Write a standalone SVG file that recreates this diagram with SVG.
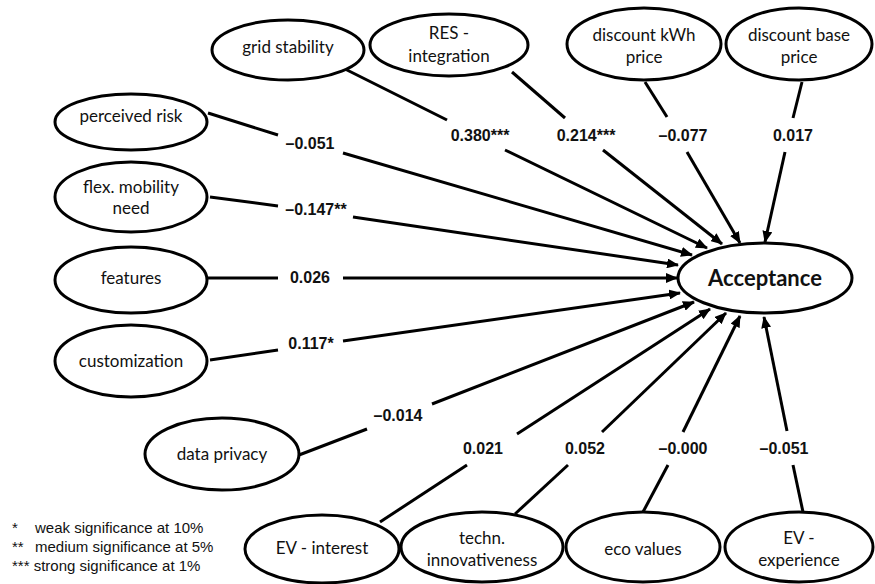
<svg xmlns="http://www.w3.org/2000/svg" width="875" height="584" viewBox="0 0 875 584">
<defs>
<marker id="arr" markerUnits="userSpaceOnUse" markerWidth="12" markerHeight="10" viewBox="0 0 12 10" refX="11" refY="5" orient="auto">
<path d="M0,0 L12,5 L0,10 z" fill="#000"/>
</marker>
</defs>
<style>
.node ellipse{fill:#fff;stroke:#000;stroke-width:3}
.node text{font-family:Lato,"Noto Sans",sans-serif;font-size:17px;fill:#111;text-anchor:middle}
.main text{font-weight:bold;font-size:22px}
.conn line{stroke:#000;stroke-width:3}
.conn line.a{marker-end:url(#arr)}
.lbl text{font-family:"Liberation Sans",Arial,sans-serif;font-weight:bold;font-size:16px;text-anchor:middle;fill:#111}
.leg text{font-family:"Liberation Sans",Arial,sans-serif;font-size:15px;fill:#111}
</style>
<rect width="875" height="584" fill="#fff"/>
<g class="conn">
<line x1="208" y1="113" x2="278" y2="135"/>
<line class="a" x1="343" y1="153" x2="692" y2="255"/>
<line x1="210" y1="197" x2="278" y2="206"/>
<line class="a" x1="353" y1="217" x2="678" y2="265"/>
<line x1="208" y1="278" x2="278" y2="278"/>
<line class="a" x1="343" y1="278" x2="677" y2="278"/>
<line x1="210" y1="360" x2="278" y2="350"/>
<line class="a" x1="343" y1="341" x2="680" y2="293"/>
<line x1="299" y1="455" x2="367" y2="429"/>
<line class="a" x1="432" y1="404" x2="694" y2="302"/>
<line x1="343" y1="68" x2="447" y2="120"/>
<line class="a" x1="505" y1="150" x2="707" y2="248"/>
<line x1="512" y1="72" x2="565" y2="118"/>
<line class="a" x1="603" y1="150" x2="722" y2="244"/>
<line x1="645" y1="82" x2="667" y2="117"/>
<line class="a" x1="687" y1="152" x2="740" y2="243"/>
<line x1="802" y1="82" x2="793" y2="118"/>
<line class="a" x1="785" y1="152" x2="765" y2="242"/>
<line x1="380" y1="522" x2="467" y2="465"/>
<line class="a" x1="517" y1="434" x2="710" y2="309"/>
<line x1="515" y1="514" x2="568" y2="465"/>
<line class="a" x1="602" y1="432" x2="726" y2="313"/>
<line x1="643" y1="512" x2="668" y2="465"/>
<line class="a" x1="683" y1="432" x2="740" y2="316"/>
<line x1="803" y1="512" x2="793" y2="465"/>
<line class="a" x1="787" y1="431" x2="764" y2="317"/>
</g>
<g class="lbl">
<text x="310" y="149">–0.051</text>
<text x="316" y="215">–0.147**</text>
<text x="310" y="283">0.026</text>
<text x="311" y="349">0.117*</text>
<text x="398" y="421">–0.014</text>
<text x="480" y="141">0.380***</text>
<text x="586" y="141">0.214***</text>
<text x="683" y="141">–0.077</text>
<text x="793" y="141">0.017</text>
<text x="483" y="454">0.021</text>
<text x="585" y="454">0.052</text>
<text x="683" y="454">–0.000</text>
<text x="784" y="454">–0.051</text>
</g>
<g id="acceptance" class="node main"><ellipse cx="765" cy="278" rx="87" ry="35"/><text x="765" y="286">Acceptance</text></g>
<g id="grid-stability" class="node"><ellipse cx="288" cy="50" rx="76" ry="30"/><text x="288" y="53">grid stability</text></g>
<g id="res-integration" class="node"><ellipse cx="449" cy="45" rx="79" ry="31"/><text x="449" y="39">RES -</text><text x="449" y="62">integration</text></g>
<g id="discount-kwh" class="node"><ellipse cx="644" cy="44" rx="77" ry="36"/><text x="644" y="41">discount kWh</text><text x="644" y="63">price</text></g>
<g id="discount-base" class="node"><ellipse cx="799" cy="44" rx="73" ry="36"/><text x="799" y="41">discount base</text><text x="799" y="63">price</text></g>
<g id="perceived-risk" class="node"><ellipse cx="131" cy="122" rx="76" ry="28"/><text x="131" y="122">perceived risk</text></g>
<g id="flex-mobility" class="node"><ellipse cx="131" cy="197" rx="76" ry="35"/><text x="131" y="193">flex. mobility</text><text x="131" y="214">need</text></g>
<g id="features" class="node"><ellipse cx="131" cy="280" rx="76" ry="33"/><text x="131" y="284">features</text></g>
<g id="customization" class="node"><ellipse cx="131" cy="361" rx="76" ry="36"/><text x="131" y="367">customization</text></g>
<g id="data-privacy" class="node"><ellipse cx="222" cy="454" rx="77" ry="36"/><text x="222" y="460">data privacy</text></g>
<g id="ev-interest" class="node"><ellipse cx="322" cy="549" rx="77" ry="34"/><text x="322" y="554">EV - interest</text></g>
<g id="techn-innovativeness" class="node"><ellipse cx="482" cy="547" rx="81" ry="35"/><text x="482" y="544">techn.</text><text x="482" y="566">innovativeness</text></g>
<g id="eco-values" class="node"><ellipse cx="643" cy="547" rx="77" ry="35"/><text x="643" y="555">eco values</text></g>
<g id="ev-experience" class="node"><ellipse cx="799" cy="547" rx="74" ry="35"/><text x="799" y="544">EV -</text><text x="799" y="566">experience</text></g>
<g class="leg">
<text x="12" y="533">*</text><text x="35" y="533">weak significance at 10%</text>
<text x="12" y="552">**</text><text x="35" y="552">medium significance at 5%</text>
<text x="12" y="571">*** strong significance at 1%</text>
</g>
</svg>
